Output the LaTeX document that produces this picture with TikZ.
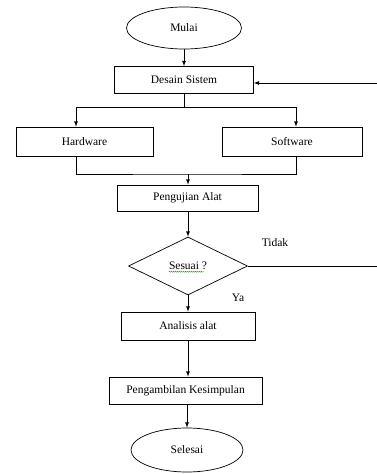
\documentclass[tikz,border=0pt]{standalone}
\usepackage{fontspec}
\setmainfont{Liberation Serif}
\usetikzlibrary{arrows}
\usetikzlibrary{shapes.geometric}
\usetikzlibrary{decorations.pathmorphing}

\tikzset{
  proses/.style={draw=black,line width=0.7pt,rectangle,inner sep=0pt},
  terminal/.style={draw=black,line width=0.7pt,ellipse,inner sep=0pt},
  keputusan/.style={draw=black,line width=0.7pt,diamond,inner sep=0pt},
  garis/.style={draw=black,line width=0.8pt},
  panah/.style={garis,-latex}
}

\begin{document}
\begin{tikzpicture}[x=1pt,y=-1pt,font=\fontsize{11.5}{13}\selectfont]
\useasboundingbox (0,0) rectangle (377,474);
\node[terminal,minimum width=115pt,minimum height=42pt] (mulai) at (184,28) {Mulai};
\node[proses,minimum width=139pt,minimum height=27pt] (desain) at (184,80) {Desain Sistem};
\node[proses,minimum width=137pt,minimum height=29pt] (hardware) at (84.5,141.5) {Hardware};
\node[proses,minimum width=140pt,minimum height=29pt] (software) at (292,141.5) {Software};
\node[proses,minimum width=141pt,minimum height=26pt] (pengujian) at (187.5,198) {Pengujian Alat};
\node[keputusan,minimum width=119pt,minimum height=58pt] (sesuai) at (188,266) {Sesuai ?};
\node[proses,minimum width=134pt,minimum height=28pt] (analisis) at (188,326) {Analisis alat};
\node[proses,minimum width=153pt,minimum height=27pt] (kesimpulan) at (185.5,390.5) {Pengambilan Kesimpulan};
\node[terminal,minimum width=112pt,minimum height=44pt] (selesai) at (187,450) {Selesai};
\node (tidak) at (275,243) {Tidak};
\node (ya) at (238,298) {Ya};

% cabang dan gabung
\coordinate (cabang) at (184,107);
\coordinate (gabung) at (188,174);
\coordinate (tidakujung) at (377,266);
\coordinate (balik) at (377,83);

\draw[panah] (mulai.south) -- (desain.north);
\draw[garis] (desain.south) -- (cabang);
\draw[panah] (cabang) -| ([xshift=-8.5pt]hardware.north);
\draw[panah] (cabang) -| ([xshift=4pt]software.north);
\draw[garis] ([xshift=-8.5pt]hardware.south) |- (gabung) -| ([xshift=4pt]software.south);
\draw[panah] (gabung) -- (gabung |- pengujian.north);
\draw[panah] (pengujian.south -| sesuai.north) -- (sesuai.north);
\draw[panah] (sesuai.south) -- (analisis.north);
\draw[panah] (analisis.south) -- (analisis.south |- kesimpulan.north);
\draw[panah] (selesai.north |- kesimpulan.south) -- (selesai.north);
\draw[garis] (sesuai.east) -- (tidakujung);
\draw[panah] (balik) -- (desain.east |- balik);

% garis ejaan hijau
\draw[green!60!black,line width=0.4pt,decorate,decoration={snake,amplitude=0.5pt,segment length=2pt}]
  ([xshift=-19pt,yshift=-2pt]sesuai.base) -- ([xshift=16pt,yshift=-2pt]sesuai.base);
\end{tikzpicture}
\end{document}
